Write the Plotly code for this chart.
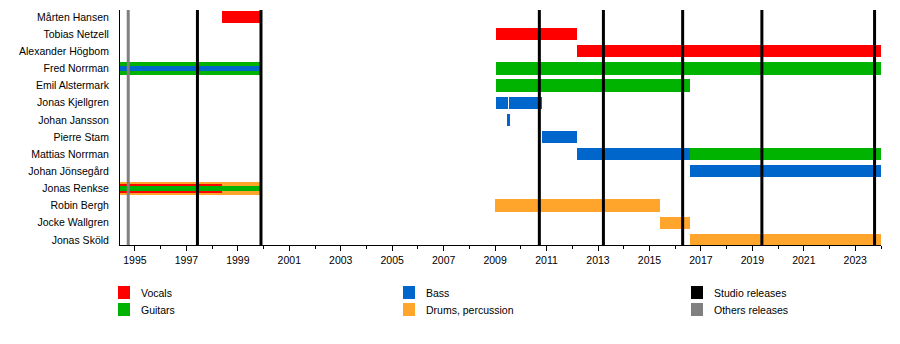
import plotly.graph_objects as go

# ---------------- data ----------------
members = ["Mårten Hansen", "Tobias Netzell", "Alexander Högbom", "Fred Norrman",
           "Emil Alstermark", "Jonas Kjellgren", "Johan Jansson", "Pierre Stam",
           "Mattias Norrman", "Johan Jönsegård", "Jonas Renkse", "Robin Bergh",
           "Jocke Wallgren", "Jonas Sköld"]

# segments: member, role, start, end, level (0 = full bar, 1 = middle stripe, 2 = inner stripe)
seg_member = ["Mårten Hansen", "Tobias Netzell", "Alexander Högbom",
              "Fred Norrman", "Fred Norrman", "Fred Norrman",
              "Emil Alstermark",
              "Jonas Kjellgren", "Jonas Kjellgren",
              "Johan Jansson",
              "Pierre Stam",
              "Mattias Norrman", "Mattias Norrman",
              "Johan Jönsegård",
              "Jonas Renkse", "Jonas Renkse", "Jonas Renkse",
              "Robin Bergh", "Jocke Wallgren", "Jonas Sköld"]
seg_role = ["Vocals", "Vocals", "Vocals",
            "Guitars", "Bass", "Guitars",
            "Guitars",
            "Bass", "Bass",
            "Bass",
            "Bass",
            "Bass", "Guitars",
            "Bass",
            "Drums, percussion", "Vocals", "Guitars",
            "Drums, percussion", "Drums, percussion", "Drums, percussion"]
seg_start = [1998.38, 2009.04, 2012.18,
             1994.42, 1994.42, 2009.04,
             2009.04,
             2009.04, 2009.55,
             2009.46,
             2010.83,
             2012.18, 2016.59,
             2016.59,
             1994.42, 1994.42, 1994.42,
             2009.00, 2015.42, 2016.59]
seg_end = [1999.90, 2012.18, 2024.00,
           1999.90, 1999.90, 2024.00,
           2016.59,
           2009.49, 2010.83,
           2009.56,
           2012.18,
           2016.59, 2024.00,
           2024.00,
           1999.90, 1998.38, 1999.90,
           2015.42, 2016.59, 2024.00]
seg_level = [0, 0, 0,
             0, 2, 0,
             0,
             0, 0,
             0,
             0,
             0, 0,
             0,
             0, 1, 2,
             0, 0, 0]

studio_releases = [1997.43, 1999.90, 2010.72, 2013.21, 2016.29, 2019.37, 2023.75]
other_releases = [1994.74]

year_start, year_end = 1994.42, 2024.0
tick_years = list(range(1995, 2024, 2))

legend_roles = ["Vocals", "Guitars", "Bass", "Drums, percussion", "Studio releases", "Others releases"]

# ---------------- style ----------------
colors = {"Vocals": "#ff0000", "Guitars": "#00b300", "Bass": "#0066cc",
          "Drums, percussion": "#ffa52c", "Studio releases": "#000000",
          "Others releases": "#808080"}
level_width = {0: 0.72, 1: 0.53, 2: 0.29}
FONT = "Liberation Sans, Arial, sans-serif"

W, H = 900, 344
ML, MR, MT, MB = 120, 19, 10, 99
PW, PH = W - ML - MR, H - MT - MB

row_index = {m: i for i, m in enumerate(members)}

fig = go.Figure()
for lvl in sorted(set(seg_level)):
    idx = [i for i, l in enumerate(seg_level) if l == lvl]
    fig.add_trace(go.Bar(
        orientation="h",
        y=[row_index[seg_member[i]] for i in idx],
        base=[seg_start[i] for i in idx],
        x=[seg_end[i] - seg_start[i] for i in idx],
        width=[level_width[lvl]] * len(idx),
        marker=dict(color=[colors[seg_role[i]] for i in idx], line=dict(width=0)),
        showlegend=False, hoverinfo="skip",
    ))

shapes = []
for yr in studio_releases:
    shapes.append(dict(type="line", xref="x", yref="paper", x0=yr, x1=yr, y0=0, y1=1,
                       line=dict(color=colors["Studio releases"], width=3), layer="above"))
for yr in other_releases:
    shapes.append(dict(type="line", xref="x", yref="paper", x0=yr, x1=yr, y0=0, y1=1,
                       line=dict(color=colors["Others releases"], width=3), layer="above"))

# manual legend (pixel layout -> paper coords)
def px(x):
    return (x - ML) / PW

def py(y):
    return (H - MB - y) / PH

legend_cols = [118, 403, 691]
legend_rows = [286, 303]
annotations = []
for k, role in enumerate(legend_roles):
    cx = legend_cols[k // 2]
    cy = legend_rows[k % 2]
    shapes.append(dict(type="rect", xref="paper", yref="paper",
                       x0=px(cx), x1=px(cx + 12), y0=py(cy + 13), y1=py(cy),
                       fillcolor=colors[role], line=dict(width=0)))
    annotations.append(dict(xref="paper", yref="paper", x=px(cx + 21), y=py(cy + 6.5),
                            text=role, showarrow=False, xanchor="left", yanchor="middle",
                            font=dict(family=FONT, size=10.5, color="#000000")))

fig.update_layout(
    width=W, height=H,
    margin=dict(l=ML, r=MR, t=MT, b=MB),
    paper_bgcolor="white", plot_bgcolor="white",
    barmode="overlay", bargap=0,
    shapes=shapes, annotations=annotations,
    showlegend=False, hovermode=False,
    font=dict(family=FONT, size=10, color="#000000"),
)
fig.update_xaxes(
    range=[year_start, year_end], showgrid=False, zeroline=False,
    showline=True, linecolor="#000000", linewidth=1,
    tickmode="array", tickvals=tick_years, ticktext=[str(y) for y in tick_years],
    ticks="outside", ticklen=5, tickcolor="#000000",
    minor=dict(tickmode="linear", tick0=1994, dtick=1, ticks="outside", ticklen=3, tickcolor="#000000"),
    tickfont=dict(family=FONT, size=10.5, color="#000000"),
)
fig.update_yaxes(
    range=[len(members) - 1 + 0.30, -0.41], showgrid=False, zeroline=False,
    showline=True, linecolor="#000000", linewidth=1,
    tickmode="array", tickvals=list(range(len(members))), ticktext=members,
    ticks="", ticklabelstandoff=8,
    tickfont=dict(family=FONT, size=10.5, color="#000000"),
)

fig.write_html("out.html")
